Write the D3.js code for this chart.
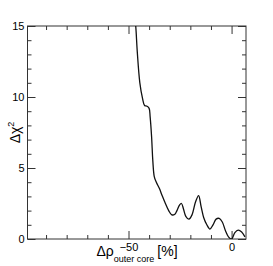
<!DOCTYPE html>
<html>
<head>
<meta charset="utf-8">
<script src="https://cdn.jsdelivr.net/npm/d3@7"></script>
<style>
body { margin: 0; background: #fff; }
text { font-family: "Liberation Sans", Arial, sans-serif; fill: #000; }
</style>
</head>
<body>
<script>
// scan of delta chi2 vs outer core density shift
var rhoShift = [-48, -46.5, -45.8, -44.5, -43.2, -42.2, -41, -40, -39.5, -38.8, -38.2, -37.5, -36.5, -35, -33.8, -32.4, -30.5, -29, -27.5, -26.5, -25.2, -24.3, -23.3, -22.2, -20.7, -19.2, -17.5, -16, -14.8, -13.5, -12, -10.5, -9, -7.5, -6, -4.5, -3, -1.5, 0, 1.6, 3.2, 4.9, 6.5];
var deltaChi2 = [17, 15, 13.3, 11.0, 9.9, 9.4, 9.35, 9.2, 8.6, 7.2, 5.5, 4.4, 4.0, 3.55, 3.1, 2.6, 2.0, 1.7, 1.75, 2.0, 2.4, 2.5, 2.1, 1.6, 1.4, 1.7, 2.6, 3.05, 2.3, 1.5, 1.0, 0.7, 1.0, 1.4, 1.45, 1.2, 0.6, 0.15, 0, 0.45, 0.63, 0.5, 0.15];
var xMajor = [-50, 0];
var yMajor = [0, 5, 10, 15];

var margin = {top: 26, right: 27, bottom: 27, left: 27.5},
    width = 273 - margin.left - margin.right,
    height = 266 - margin.top - margin.bottom;

var x = d3.scaleLinear().domain([-99, 7]).range([0, width]);
var y = d3.scaleLinear().domain([0, 15]).range([height, 0]);

var svg = d3.select("body").append("svg")
    .attr("width", 273)
    .attr("height", 266)
  .append("g")
    .attr("transform", "translate(" + margin.left + "," + margin.top + ")");

svg.append("defs").append("clipPath").attr("id", "clip")
  .append("rect").attr("width", width).attr("height", height);

var xMinor = d3.range(-90, 7, 10).filter(function(d){ return xMajor.indexOf(d) < 0; });
var yMinor = d3.range(0, 15.01, 1).filter(function(d){ return yMajor.indexOf(d) < 0; });

function styleAxis(g) {
  g.select(".domain").remove();
  g.selectAll("line").attr("stroke", "#333").attr("stroke-width", 1);
  g.selectAll("text").style("font-size", "11px");
}

// bottom
svg.append("g").attr("transform", "translate(0," + height + ")")
  .call(d3.axisBottom(x).tickValues(xMajor).tickSize(-8).tickPadding(4)
    .tickFormat(function(d){ return d < 0 ? "\u2212" + (-d) : d; }))
  .call(styleAxis);
svg.append("g").attr("transform", "translate(0," + height + ")")
  .call(d3.axisBottom(x).tickValues(xMinor).tickSize(-4).tickFormat(""))
  .call(styleAxis);
// top
svg.append("g")
  .call(d3.axisTop(x).tickValues(xMajor).tickSize(-8).tickFormat(""))
  .call(styleAxis);
svg.append("g")
  .call(d3.axisTop(x).tickValues(xMinor).tickSize(-4).tickFormat(""))
  .call(styleAxis);
// left
svg.append("g")
  .call(d3.axisLeft(y).tickValues(yMajor).tickSize(-8).tickPadding(3))
  .call(styleAxis);
svg.append("g")
  .call(d3.axisLeft(y).tickValues(yMinor).tickSize(-4).tickFormat(""))
  .call(styleAxis);
// right
svg.append("g").attr("transform", "translate(" + width + ",0)")
  .call(d3.axisRight(y).tickValues(yMajor).tickSize(-8).tickFormat(""))
  .call(styleAxis);
svg.append("g").attr("transform", "translate(" + width + ",0)")
  .call(d3.axisRight(y).tickValues(yMinor).tickSize(-4).tickFormat(""))
  .call(styleAxis);

// frame
svg.append("rect")
  .attr("width", width).attr("height", height)
  .attr("fill", "none").attr("stroke", "#333").attr("stroke-width", 1);

var line = d3.line()
  .x(function(d, i){ return x(rhoShift[i]); })
  .y(function(d){ return y(d); })
  .curve(d3.curveCatmullRom.alpha(0.5));

svg.append("path")
  .datum(deltaChi2)
  .attr("clip-path", "url(#clip)")
  .attr("fill", "none")
  .attr("stroke", "#111")
  .attr("stroke-width", 1.3)
  .attr("d", line);

// x title
var xt = svg.append("text")
  .attr("x", 69).attr("y", 256 - margin.top)
  .style("font-size", "14px");
xt.append("tspan").text("\u0394\u03c1");
xt.append("tspan").attr("dy", 6).style("font-size", "9px").text("outer core");
xt.append("tspan").attr("dy", -6).attr("dx", 3).text("[%]");

// y title
var yt = svg.append("text")
  .attr("transform", "translate(" + (20 - margin.left) + "," + (height / 2) + ") rotate(-90)")
  .attr("text-anchor", "middle")
  .style("font-size", "14px");
yt.append("tspan").text("\u0394\u03c7");
yt.append("tspan").attr("dy", -6).style("font-size", "9px").text("2");
</script>
</body>
</html>
